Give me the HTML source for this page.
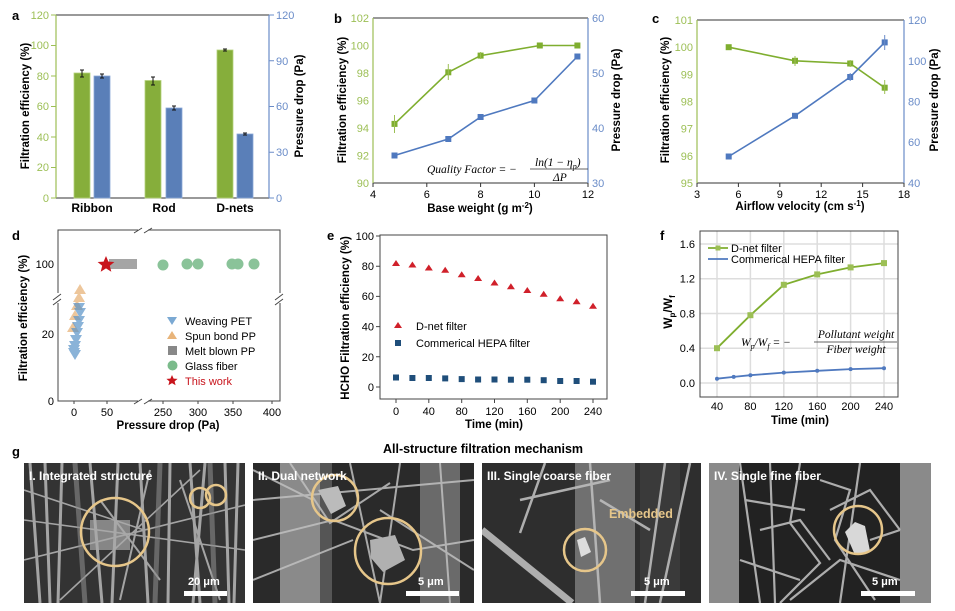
<!DOCTYPE html>
<html><head><meta charset="utf-8"><style>
body{margin:0;background:#fff}
svg{display:block;font-family:"Liberation Sans",Arial,sans-serif}
.t{font-size:11px}
.b{font-weight:bold}
.g{fill:#9cbf55}
.bl{fill:#6a8cc8}
</style></head><body>
<svg width="955" height="611" viewBox="0 0 955 611" xmlns="http://www.w3.org/2000/svg">
<defs>
<clipPath id="c1"><rect x="24" y="463" width="221" height="140"/></clipPath>
<clipPath id="c2"><rect x="253" y="463" width="221" height="140"/></clipPath>
<clipPath id="c3"><rect x="482" y="463" width="219" height="140"/></clipPath>
<clipPath id="c4"><rect x="709" y="463" width="222" height="140"/></clipPath>
</defs>

<!-- ===== Panel a ===== -->
<text x="12" y="20" class="b" font-size="13">a</text>
<line x1="56" y1="15" x2="269" y2="15" stroke="#333" stroke-width="1"/>
<line x1="56" y1="198" x2="269" y2="198" stroke="#333" stroke-width="1"/>
<line x1="56" y1="15" x2="56" y2="198" stroke="#9cbf55" stroke-width="1.2"/>
<line x1="269" y1="15" x2="269" y2="198" stroke="#6a8cc8" stroke-width="1.2"/>
<g stroke="#9cbf55"><line x1="51" y1="198" x2="56" y2="198"/><line x1="51" y1="167.5" x2="56" y2="167.5"/><line x1="51" y1="137" x2="56" y2="137"/><line x1="51" y1="106.5" x2="56" y2="106.5"/><line x1="51" y1="76" x2="56" y2="76"/><line x1="51" y1="45.5" x2="56" y2="45.5"/><line x1="51" y1="15" x2="56" y2="15"/></g>
<g stroke="#6a8cc8"><line x1="269" y1="198" x2="274" y2="198"/><line x1="269" y1="152.25" x2="274" y2="152.25"/><line x1="269" y1="106.5" x2="274" y2="106.5"/><line x1="269" y1="60.75" x2="274" y2="60.75"/><line x1="269" y1="15" x2="274" y2="15"/></g>
<g class="t g" text-anchor="end"><text x="49" y="202">0</text><text x="49" y="171">20</text><text x="49" y="141">40</text><text x="49" y="110">60</text><text x="49" y="80">80</text><text x="49" y="49">100</text><text x="49" y="19">120</text></g>
<g class="t bl"><text x="276" y="202">0</text><text x="276" y="156">30</text><text x="276" y="110">60</text><text x="276" y="65">90</text><text x="276" y="19">120</text></g>
<g fill="#86ae3b" stroke="#b5d37a" stroke-width="0.8">
<rect x="74" y="73" width="16" height="125"/><rect x="145" y="80.5" width="16" height="117.5"/><rect x="217" y="50" width="16" height="148"/></g>
<g fill="#5a7fb8" stroke="#8aa8d8" stroke-width="0.8">
<rect x="94" y="76" width="16" height="122"/><rect x="166" y="108" width="16" height="90"/><rect x="237" y="134" width="16" height="64"/></g>
<g stroke="#111" stroke-width="1"><path d="M82 70v7M80 70h4M80 77h4M102 74v4M100 74h4M100 78h4M153 77v8M151 77h4M151 85h4M174 106v4M172 106h4M172 110h4M225 49v2M223 49h4M223 51h4M245 133v2M243 133h4M243 135h4"/></g>
<g class="b" font-size="12" text-anchor="middle"><text x="92" y="212">Ribbon</text><text x="164" y="212">Rod</text><text x="235" y="212">D-nets</text></g>
<text class="b" font-size="11.5" text-anchor="middle" transform="translate(29,106) rotate(-90)">Filtration efficiency (%)</text>
<text class="b" font-size="11.5" text-anchor="middle" transform="translate(303,106) rotate(-90)">Pressure drop (Pa)</text>

<!-- ===== Panel b ===== -->
<text x="334" y="23" class="b" font-size="13">b</text>
<line x1="373" y1="18" x2="588" y2="18" stroke="#333"/>
<line x1="373" y1="183" x2="588" y2="183" stroke="#333"/>
<line x1="373" y1="18" x2="373" y2="183" stroke="#9cbf55" stroke-width="1.2"/>
<line x1="588" y1="18" x2="588" y2="183" stroke="#6a8cc8" stroke-width="1.2"/>
<g stroke="#333"><path d="M373 183v4M426.8 183v4M480.6 183v4M534.4 183v4M588 183v4"/></g>
<g class="t g" text-anchor="end"><text x="369" y="187">90</text><text x="369" y="159.5">92</text><text x="369" y="132">94</text><text x="369" y="104.5">96</text><text x="369" y="77">98</text><text x="369" y="49.5">100</text><text x="369" y="22">102</text></g>
<g class="t bl"><text x="592" y="187">30</text><text x="592" y="132">40</text><text x="592" y="77">50</text><text x="592" y="22">60</text></g>
<g class="t" text-anchor="middle"><text x="373" y="198">4</text><text x="426.8" y="198">6</text><text x="480.6" y="198">8</text><text x="534.4" y="198">10</text><text x="588" y="198">12</text></g>
<polyline points="394.5,123.9 448.3,72.3 480.6,55.6 539.8,45.5 577.4,45.5" fill="none" stroke="#7fae2f" stroke-width="1.6"/>
<polyline points="394.5,155.5 448.3,139 480.6,117 534.4,100.5 577.4,56.5" fill="none" stroke="#4f79bf" stroke-width="1.6"/>
<g fill="#7fae2f"><rect x="391.5" y="120.9" width="6" height="6"/><rect x="445.3" y="69.3" width="6" height="6"/><rect x="477.6" y="52.6" width="6" height="6"/><rect x="536.8" y="42.5" width="6" height="6"/><rect x="574.4" y="42.5" width="6" height="6"/></g>
<g stroke="#9cbf55"><path d="M394.5 115v18M448.3 64v16M480.6 52v7"/></g>
<g fill="#4f79bf"><rect x="391.5" y="152.5" width="6" height="6"/><rect x="445.3" y="136" width="6" height="6"/><rect x="477.6" y="114" width="6" height="6"/><rect x="531.4" y="97.5" width="6" height="6"/><rect x="574.4" y="53.5" width="6" height="6"/></g>
<g font-family="'Liberation Serif',serif" font-style="italic" font-size="11.5"><text x="427" y="173">Quality Factor = −</text><text x="535" y="166">ln(1 − η<tspan font-size="8" dy="3">p</tspan><tspan dy="-3">)</tspan></text><text x="553" y="181">ΔP</text></g>
<line x1="530" y1="169" x2="588" y2="169" stroke="#333" stroke-width="0.8"/>
<text class="b" font-size="11.5" text-anchor="middle" x="480" y="212">Base weight (g m<tspan font-size="8" dy="-4">-2</tspan><tspan dy="4">)</tspan></text>
<text class="b" font-size="11.5" text-anchor="middle" transform="translate(346,100) rotate(-90)">Filtration efficiency (%)</text>
<text class="b" font-size="11.5" text-anchor="middle" transform="translate(620,100) rotate(-90)">Pressure drop (Pa)</text>

<!-- ===== Panel c ===== -->
<text x="652" y="23" class="b" font-size="13">c</text>
<line x1="697" y1="20" x2="904" y2="20" stroke="#333"/>
<line x1="697" y1="183" x2="904" y2="183" stroke="#333"/>
<line x1="697" y1="20" x2="697" y2="183" stroke="#9cbf55" stroke-width="1.2"/>
<line x1="904" y1="20" x2="904" y2="183" stroke="#6a8cc8" stroke-width="1.2"/>
<g stroke="#333"><path d="M697 183v4M738.4 183v4M779.8 183v4M821.2 183v4M862.6 183v4M904 183v4"/></g>
<g class="t g" text-anchor="end"><text x="693" y="187">95</text><text x="693" y="160">96</text><text x="693" y="132.7">97</text><text x="693" y="105.5">98</text><text x="693" y="78.3">99</text><text x="693" y="51.2">100</text><text x="693" y="24">101</text></g>
<g class="t bl"><text x="908" y="187">40</text><text x="908" y="146">60</text><text x="908" y="105.5">80</text><text x="908" y="65">100</text><text x="908" y="24">120</text></g>
<g class="t" text-anchor="middle"><text x="697" y="198">3</text><text x="738.4" y="198">6</text><text x="779.8" y="198">9</text><text x="821.2" y="198">12</text><text x="862.6" y="198">15</text><text x="904" y="198">18</text></g>
<polyline points="728.7,47.2 795,60.8 850.2,63.5 884.7,87.7" fill="none" stroke="#7fae2f" stroke-width="1.6"/>
<polyline points="728.7,156.5 795,115.8 850.2,77 884.7,42.4" fill="none" stroke="#4f79bf" stroke-width="1.6"/>
<g fill="#7fae2f"><rect x="725.7" y="44.2" width="6" height="6"/><rect x="792" y="57.8" width="6" height="6"/><rect x="847.2" y="60.5" width="6" height="6"/><rect x="881.7" y="84.7" width="6" height="6"/></g>
<g fill="#4f79bf"><rect x="725.7" y="153.5" width="6" height="6"/><rect x="792" y="112.8" width="6" height="6"/><rect x="847.2" y="74" width="6" height="6"/><rect x="881.7" y="39.4" width="6" height="6"/></g>
<g stroke="#9cbf55"><path d="M795 56v10M850.2 60v7M884.7 80v14"/></g>
<g stroke="#6a8cc8"><path d="M850.2 73v8M884.7 35v15"/></g>
<text class="b" font-size="11.5" text-anchor="middle" x="800" y="210">Airflow velocity (cm s<tspan font-size="8" dy="-4">-1</tspan><tspan dy="4">)</tspan></text>
<text class="b" font-size="11.5" text-anchor="middle" transform="translate(669,100) rotate(-90)">Filtration efficiency (%)</text>
<text class="b" font-size="11.5" text-anchor="middle" transform="translate(938,100) rotate(-90)">Pressure drop (Pa)</text>

<!-- ===== Panel d ===== -->
<text x="12" y="240" class="b" font-size="13">d</text>
<rect x="58" y="230" width="222" height="171" fill="none" stroke="#444"/>
<rect x="138" y="227" width="10" height="6" fill="#fff"/><rect x="138" y="398" width="10" height="6" fill="#fff"/>
<rect x="55" y="293" width="6" height="10" fill="#fff"/><rect x="277" y="293" width="6" height="10" fill="#fff"/>
<g stroke="#444"><path d="M134 233l8-5M144 233l8-5M134 404l8-5M144 404l8-5M53 300l8-6M275 300l8-6M53 305l8-6M275 305l8-6"/></g>
<g class="t" text-anchor="end"><text x="54" y="268">100</text><text x="54" y="338">20</text><text x="54" y="405">0</text></g>
<g class="t" text-anchor="middle"><text x="74" y="416">0</text><text x="107" y="416">50</text><text x="163" y="416">250</text><text x="198" y="416">300</text><text x="233" y="416">350</text><text x="272" y="416">400</text></g>
<g stroke="#444"><path d="M74 401v3M107 401v3M163 401v3M198 401v3M233 401v3M272 401v3"/></g>
<g fill="#e8b47a" opacity="0.75"><path d="M80 284l-6 10h12z"/><path d="M79 292l-6 10h12z"/><path d="M77 300l-6 10h12z"/><path d="M75 310l-6 10h12z"/><path d="M73 322l-6 10h12z"/></g>
<g fill="#5a93c8" opacity="0.7"><path d="M74 358l-6-10h12z"/><path d="M74 355l-6-10h12z"/><path d="M75 351l-6-10h12z"/><path d="M76 345l-6-10h12z"/><path d="M77 338l-6-10h12z"/><path d="M78 332l-6-10h12z"/><path d="M79 326l-6-10h12z"/><path d="M80 318l-6-10h12z"/><path d="M79 313l-6-10h12z"/><path d="M75 360l-6-10h12z"/></g>
<g fill="#888" opacity="0.75"><rect x="109" y="259" width="9" height="10"/><rect x="114" y="259" width="9" height="10"/><rect x="119" y="259" width="9" height="10"/><rect x="124" y="259" width="9" height="10"/><rect x="128" y="259" width="9" height="10"/></g>
<g fill="#5aaa6e" opacity="0.7"><circle cx="163" cy="265" r="5.5"/><circle cx="187" cy="264" r="5.5"/><circle cx="198" cy="264" r="5.5"/><circle cx="232" cy="264" r="5.5"/><circle cx="238" cy="264" r="5.5"/><circle cx="254" cy="264" r="5.5"/></g>
<path d="M106 256l2.4 5.6 6 .4-4.6 3.8 1.5 5.9-5.3-3.3-5.3 3.3 1.5-5.9-4.6-3.8 6-.4z" fill="#c8141c"/>
<g fill="#5a93c8" opacity="0.8"><path d="M167 317h10l-5 8z"/></g>
<path d="M167 339h10l-5-8z" fill="#e8b47a"/>
<rect x="168" y="346" width="9" height="9" fill="#888"/>
<circle cx="172.5" cy="365.5" r="5" fill="#5aaa6e" opacity="0.8"/>
<path d="M172 375l1.6 3.6 4 .3-3 2.5 1 3.8-3.6-2.1-3.6 2.1 1-3.8-3-2.5 4-.3z" fill="#c8141c"/>
<g font-size="11"><text x="185" y="325">Weaving PET</text><text x="185" y="340">Spun bond PP</text><text x="185" y="355">Melt blown PP</text><text x="185" y="370">Glass fiber</text><text x="185" y="385" fill="#c8141c">This work</text></g>
<text class="b" font-size="11.5" text-anchor="middle" x="168" y="429">Pressure drop (Pa)</text>
<text class="b" font-size="11.5" text-anchor="middle" transform="translate(27,318) rotate(-90)">Filtration efficiency (%)</text>

<!-- ===== Panel e ===== -->
<text x="327" y="240" class="b" font-size="13">e</text>
<rect x="380" y="235" width="227" height="164" fill="none" stroke="#444"/>
<g stroke="#444"><path d="M376 236h4M376 266.2h4M376 296.4h4M376 326.6h4M376 356.8h4M376 387h4M396 399v4M428.8 399v4M461.7 399v4M494.5 399v4M527.3 399v4M560.2 399v4M593 399v4"/></g>
<g class="t" text-anchor="end"><text x="374" y="240">100</text><text x="374" y="270">80</text><text x="374" y="300">60</text><text x="374" y="330.5">40</text><text x="374" y="361">20</text><text x="374" y="391">0</text></g>
<g class="t" text-anchor="middle"><text x="396" y="415">0</text><text x="428.8" y="415">40</text><text x="461.7" y="415">80</text><text x="494.5" y="415">120</text><text x="527.3" y="415">160</text><text x="560.2" y="415">200</text><text x="593" y="415">240</text></g>
<g fill="#d0202a">
<path d="M396 260l-4 6h8z"/><path d="M412.4 261.5l-4 6h8z"/><path d="M428.8 264.5l-4 6h8z"/><path d="M445.2 266.7l-4 6h8z"/><path d="M461.7 271.2l-4 6h8z"/><path d="M478.1 275l-4 6h8z"/><path d="M494.5 279.5l-4 6h8z"/><path d="M510.9 283.3l-4 6h8z"/><path d="M527.3 287l-4 6h8z"/><path d="M543.7 290.8l-4 6h8z"/><path d="M560.2 295.3l-4 6h8z"/><path d="M576.6 298.3l-4 6h8z"/><path d="M593 302.8l-4 6h8z"/>
<path d="M398 322l-4 6h8z"/></g>
<g fill="#1f4e7a">
<rect x="393" y="374.5" width="6" height="6"/><rect x="409.4" y="375" width="6" height="6"/><rect x="425.8" y="375" width="6" height="6"/><rect x="442.2" y="375.4" width="6" height="6"/><rect x="458.7" y="376.1" width="6" height="6"/><rect x="475.1" y="376.5" width="6" height="6"/><rect x="491.5" y="376.5" width="6" height="6"/><rect x="507.9" y="376.7" width="6" height="6"/><rect x="524.3" y="376.7" width="6" height="6"/><rect x="540.7" y="377.2" width="6" height="6"/><rect x="557.2" y="378" width="6" height="6"/><rect x="573.6" y="378" width="6" height="6"/><rect x="590" y="378.7" width="6" height="6"/>
<rect x="395" y="340" width="6" height="6"/></g>
<g font-size="11"><text x="416" y="330">D-net filter</text><text x="416" y="347">Commerical HEPA filter</text></g>
<text class="b" font-size="11.5" text-anchor="middle" x="494" y="428">Time (min)</text>
<text class="b" font-size="11.5" text-anchor="middle" transform="translate(349,318) rotate(-90)">HCHO Filtration efficiency (%)</text>

<!-- ===== Panel f ===== -->
<text x="660" y="240" class="b" font-size="13">f</text>
<g stroke="#ddd" stroke-width="1.5"><path d="M717 231v166M750.4 231v166M783.8 231v166M817.2 231v166M850.6 231v166M884 231v166M700 244h198M700 278.75h198M700 313.5h198M700 348.25h198M700 383h198"/></g>
<rect x="700" y="231" width="198" height="166" fill="none" stroke="#444"/>
<g class="t" text-anchor="end"><text x="695" y="248">1.6</text><text x="695" y="282.7">1.2</text><text x="695" y="317.5">0.8</text><text x="695" y="352.2">0.4</text><text x="695" y="387">0.0</text></g>
<g class="t" text-anchor="middle"><text x="717" y="410">40</text><text x="750.4" y="410">80</text><text x="783.8" y="410">120</text><text x="817.2" y="410">160</text><text x="850.6" y="410">200</text><text x="884" y="410">240</text></g>
<polyline points="717,348.2 750.4,315.2 783.8,284.8 817.2,274.4 850.6,267.4 884,263.1" fill="none" stroke="#7fae2f" stroke-width="1.8"/>
<g fill="#9cbf55"><rect x="714" y="345.2" width="6" height="6"/><rect x="747.4" y="312.2" width="6" height="6"/><rect x="780.8" y="281.8" width="6" height="6"/><rect x="814.2" y="271.4" width="6" height="6"/><rect x="847.6" y="264.4" width="6" height="6"/><rect x="881" y="260.1" width="6" height="6"/></g>
<polyline points="717,378.7 733.7,376.9 750.4,375.2 783.8,372.6 817.2,370.8 850.6,369.1 884,368.2" fill="none" stroke="#4f79bf" stroke-width="1.8"/>
<g fill="#4f79bf"><circle cx="717" cy="378.7" r="2"/><circle cx="733.7" cy="376.9" r="2"/><circle cx="750.4" cy="375.2" r="2"/><circle cx="783.8" cy="372.6" r="2"/><circle cx="817.2" cy="370.8" r="2"/><circle cx="850.6" cy="369.1" r="2"/><circle cx="884" cy="368.2" r="2"/></g>
<line x1="708" y1="248" x2="728" y2="248" stroke="#7fae2f" stroke-width="1.8"/><rect x="715.5" y="245.5" width="5" height="5" fill="#9cbf55"/>
<line x1="708" y1="259" x2="728" y2="259" stroke="#4f79bf" stroke-width="1.8"/>
<g font-size="11"><text x="731" y="252">D-net filter</text><text x="731" y="263">Commerical HEPA filter</text></g>
<g font-family="'Liberation Serif',serif" font-style="italic" font-size="11.5"><text x="741" y="346">W<tspan font-size="8" dy="3">p</tspan><tspan dy="-3">/W</tspan><tspan font-size="8" dy="3">f</tspan><tspan dy="-3"> = −</tspan></text><text x="856" y="338" text-anchor="middle">Pollutant weight</text><text x="856" y="353" text-anchor="middle">Fiber weight</text></g>
<line x1="814" y1="342" x2="897" y2="342" stroke="#333" stroke-width="0.8"/>
<text class="b" font-size="11.5" text-anchor="middle" x="800" y="424">Time (min)</text>
<text class="b" font-size="12" text-anchor="middle" transform="translate(672,312) rotate(-90)">W<tspan font-size="8" dy="3">p</tspan><tspan dy="-3">/W</tspan><tspan font-size="8" dy="3">f</tspan></text>

<!-- ===== Panel g ===== -->
<text x="12" y="456" class="b" font-size="13">g</text>
<text x="483" y="453" class="b" font-size="12.5" text-anchor="middle">All-structure filtration mechanism</text>

<g clip-path="url(#c1)">
<rect x="24" y="463" width="221" height="140" fill="#333"/>
<g stroke="#b8b8b8" fill="none" stroke-width="3" opacity="0.85">
<path d="M30 463l10 140M45 463l5 140M62 463l-4 140M90 463l12 140M118 463l-6 140M140 463l8 140M170 463l-2 140M190 463l10 140M205 463l-12 140M225 463l4 140M238 463l-4 140"/>
<path d="M24 560l221-55M24 520l221 30M60 600l140-130M24 490l120 40" stroke-width="1.6"/>
<path d="M150 470l-30 130M180 480l40 120M100 500l60 80" stroke-width="2"/>
</g>
<g stroke="#8a8a8a" stroke-width="5" opacity="0.6"><path d="M75 463l10 140M210 463l5 140M160 463l-5 140"/></g>
<rect x="90" y="520" width="40" height="30" fill="#aaa" opacity="0.7"/>
<circle cx="115" cy="532" r="34" fill="none" stroke="#e6c68a" stroke-width="2.5"/>
<circle cx="200" cy="498" r="10" fill="none" stroke="#e6c68a" stroke-width="2.5"/>
<circle cx="216" cy="495" r="10" fill="none" stroke="#e6c68a" stroke-width="2.5"/>
<text x="29" y="480" class="b" font-size="12" fill="#fff">I. Integrated structure</text>
<text x="188" y="585" class="b" font-size="11" fill="#fff">20 μm</text>
<rect x="184" y="591" width="43" height="5" fill="#fff"/>
</g>

<g clip-path="url(#c2)">
<rect x="253" y="463" width="221" height="140" fill="#2a2a2a"/>
<rect x="280" y="463" width="40" height="140" fill="#8a8a8a"/>
<rect x="320" y="463" width="12" height="140" fill="#555"/>
<rect x="420" y="463" width="40" height="140" fill="#6a6a6a"/>
<g stroke="#c0c0c0" fill="none" stroke-width="2" opacity="0.85">
<path d="M253 500l221-20M253 540l80-20l80 30l61-10M290 463l40 60l60-40M350 463l30 140M400 463l-20 140M253 580l100-40M380 510l94 60M440 463l10 140M253 470l60 30"/>
</g>
<path d="M318 490l20-4 8 20-15 8z" fill="#bbb"/>
<path d="M370 540l25-5 10 25-22 12-12-14z" fill="#b0b0b0"/>
<circle cx="335" cy="498" r="23" fill="none" stroke="#e6c68a" stroke-width="2.5"/>
<circle cx="388" cy="551" r="33" fill="none" stroke="#e6c68a" stroke-width="2.5"/>
<text x="258" y="480" class="b" font-size="12" fill="#fff">II. Dual network</text>
<text x="418" y="585" class="b" font-size="11" fill="#fff">5 μm</text>
<rect x="406" y="591" width="53" height="5" fill="#fff"/>
</g>

<g clip-path="url(#c3)">
<rect x="482" y="463" width="219" height="140" fill="#2e2e2e"/>
<rect x="575" y="463" width="60" height="140" fill="#707070"/>
<rect x="640" y="463" width="40" height="140" fill="#3a3a3a"/>
<g stroke="#bcbcbc" fill="none" opacity="0.9">
<path d="M482 530l90 73" stroke-width="7"/>
<path d="M545 463l-25 70M520 500l90-20M590 463l10 140M665 463l-20 140M690 463l-30 140M600 500l50 30" stroke-width="2.5"/>
</g>
<path d="M577 540l8-3 6 15-10 5z" fill="#ddd"/>
<circle cx="585" cy="550" r="21" fill="none" stroke="#e6c68a" stroke-width="2.5"/>
<text x="487" y="480" class="b" font-size="12" fill="#fff">III. Single coarse fiber</text>
<text x="609" y="518" class="b" font-size="12.5" fill="#e6c68a">Embedded</text>
<text x="644" y="585" class="b" font-size="11" fill="#fff">5 μm</text>
<rect x="631" y="591" width="54" height="5" fill="#fff"/>
</g>

<g clip-path="url(#c4)">
<rect x="709" y="463" width="222" height="140" fill="#222"/>
<rect x="709" y="463" width="30" height="140" fill="#8a8a8a"/>
<rect x="900" y="463" width="31" height="140" fill="#8a8a8a"/>
<g stroke="#bdbdbd" fill="none" stroke-width="2.2" opacity="0.9">
<path d="M740 463l20 140M770 463l5 140M800 463l-10 60l30 40l-40 40M830 510l40-20l30 40M760 530l40-10l30 40M745 500l60 10M740 560l60 20M820 480l30 10l-15 50l40 60M860 463l-20 140M870 540l30-10M790 600l50-40l60 20"/>
</g>
<path d="M845 532l10-10 10 4 5 25-15 4z" fill="#d8d8d8"/>
<circle cx="858" cy="530" r="24" fill="none" stroke="#e6c68a" stroke-width="2.5"/>
<text x="714" y="480" class="b" font-size="12" fill="#fff">IV. Single fine fiber</text>
<text x="872" y="585" class="b" font-size="11" fill="#fff">5 μm</text>
<rect x="861" y="591" width="54" height="5" fill="#fff"/>
</g>
</svg>
</body></html>
